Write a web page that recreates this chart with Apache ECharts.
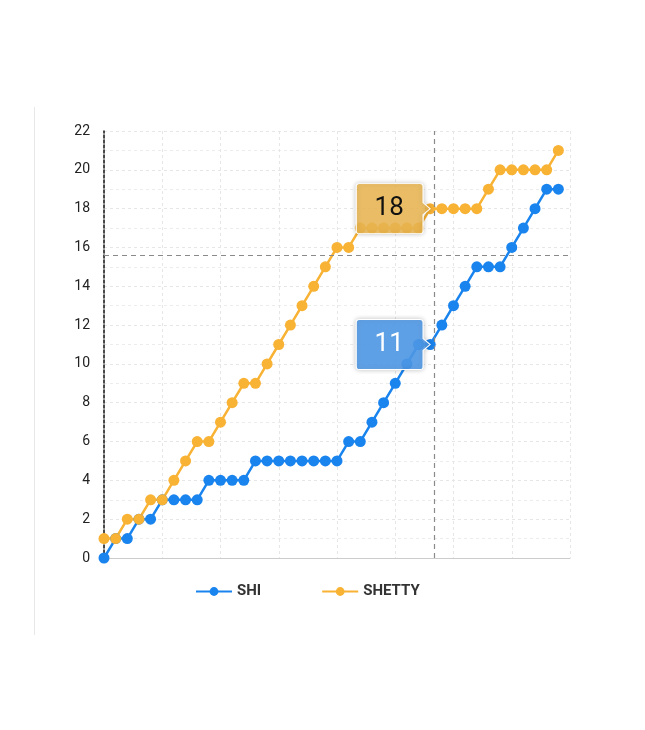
<!DOCTYPE html>
<html>
<head>
<meta charset="utf-8">
<script src="https://cdn.jsdelivr.net/npm/echarts@6/dist/echarts.min.js"></script>
<style>
  html, body { margin: 0; padding: 0; background: #fff; }
  #main { width: 645px; height: 730px; }
</style>
</head>
<body>
<div id="main"></div>
<script>
// 图例名称
var seriesNames = ['SHI', 'SHETTY'];
// SHI 累计值
var shiValues = [0, 1, 1, 2, 2, 3, 3, 3, 3, 4, 4, 4, 4, 5, 5, 5, 5, 5, 5, 5,
                 5, 6, 6, 7, 8, 9, 10, 11, 11, 12, 13, 14, 15, 15, 15, 16, 17, 18, 19, 19];
// SHETTY 累计值
var shettyValues = [1, 1, 2, 2, 3, 3, 4, 5, 6, 6, 7, 8, 9, 9, 10, 11, 12, 13, 14, 15,
                    16, 16, 17, 17, 17, 17, 17, 17, 18, 18, 18, 18, 18, 19, 20, 20, 20, 20, 20, 21];
// 提示框所在的点
var hoverIndex = 28;
// 十字准线位置
var crossX = 28.35;
var crossY = 15.6;

var colors = ['#1a84ee', '#f8b234'];

function toPairs(values) {
    var out = [];
    for (var i = 0; i < values.length; i++) {
        out.push([i, values[i]]);
    }
    return out;
}

// 带右侧箭头的提示框
var tipPath = 'path://M3,0 L63,0 Q66,0 66,3 L66,19 L73,25 L66,31 L66,47 Q66,50 63,50 L3,50 Q0,50 0,47 L0,3 Q0,0 3,0 Z';

function tipPoint(values, fill, textColor) {
    return {
        symbol: tipPath,
        symbolSize: [74, 50],
        symbolOffset: [-37, 0],
        silent: true,
        itemStyle: {
            color: fill,
            borderColor: '#fff',
            borderWidth: 1,
            shadowBlur: 5,
            shadowColor: 'rgba(0,0,0,0.25)'
        },
        label: {
            show: true,
            position: 'inside',
            offset: [-4, 0],
            color: textColor,
            fontSize: 26,
            fontFamily: 'Roboto',
            formatter: function (p) { return p.value; }
        },
        data: [{ coord: [hoverIndex, values[hoverIndex]], value: values[hoverIndex] }]
    };
}

var chart = echarts.init(document.getElementById('main'));

var option = {
    animation: false,
    textStyle: { fontFamily: 'Roboto' },
    color: colors,
    graphic: [{
        type: 'line',
        shape: { x1: 34.5, y1: 107, x2: 34.5, y2: 635 },
        style: { stroke: '#e8e8e8', lineWidth: 1 }
    }],
    grid: {
        left: 104,
        right: 75,
        top: 131,
        bottom: 172
    },
    legend: {
        data: seriesNames,
        left: 190,
        top: 579,
        itemWidth: 36,
        itemHeight: 11,
        itemGap: 60,
        textStyle: { color: '#333', fontSize: 15, fontWeight: 'bold' }
    },
    xAxis: {
        type: 'value',
        min: 0,
        max: 40,
        interval: 5,
        axisLine: { show: true, lineStyle: { color: '#cccccc', width: 1 } },
        axisTick: { show: false },
        axisLabel: { show: false },
        splitLine: { show: true, lineStyle: { color: '#e6e6e6', type: [3, 3] } }
    },
    yAxis: {
        type: 'value',
        min: 0,
        max: 22,
        interval: 2,
        axisLine: { show: true, lineStyle: { color: '#111', type: [3, 2], width: 1.5 } },
        axisTick: { show: false },
        axisLabel: { color: '#222', fontSize: 14, margin: 14 },
        splitLine: { show: true, lineStyle: { color: '#e6e6e6', type: [3, 3] } },
        minorTick: { show: false, splitNumber: 2 },
        minorSplitLine: { show: true, lineStyle: { color: '#ececec', type: [3, 3] } }
    },
    series: [
        {
            name: seriesNames[0],
            type: 'line',
            data: toPairs(shiValues),
            symbol: 'circle',
            symbolSize: 11,
            lineStyle: { width: 2.5 },
            markLine: {
                silent: true,
                symbol: 'none',
                label: { show: false },
                lineStyle: { color: '#8a8a8a', type: [5, 4], width: 1.2 },
                data: [{ xAxis: crossX }, { yAxis: crossY }]
            },
            markPoint: tipPoint(shiValues, 'rgba(80,155,235,0.88)', '#fff')
        },
        {
            name: seriesNames[1],
            type: 'line',
            data: toPairs(shettyValues),
            symbol: 'circle',
            symbolSize: 11,
            lineStyle: { width: 2.5 },
            markPoint: tipPoint(shettyValues, 'rgba(239,186,84,0.85)', '#111')
        }
    ]
};

chart.setOption(option);
</script>
</body>
</html>
